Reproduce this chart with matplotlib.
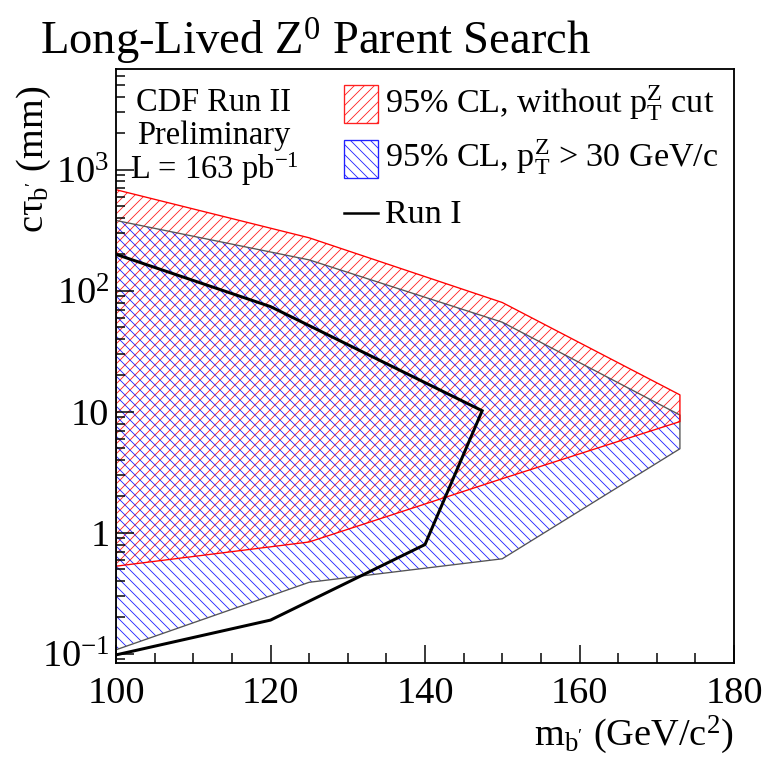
import matplotlib
matplotlib.use("Agg")
import matplotlib.pyplot as plt
from matplotlib.patches import Rectangle
from matplotlib.lines import Line2D
from matplotlib.ticker import FixedLocator, NullFormatter

# b' mass points of the exclusion contours (GeV/c^2)
mass_nocut = [100, 125, 150, 173]
ctau_upper_nocut = [684, 274, 80, 13.8]     # 95% CL, without pT(Z) cut
ctau_lower_nocut = [0.53, 0.84, 2.8, 8.3]

mass_cut = [100, 125, 150, 173]
ctau_upper_cut = [381, 180, 55, 9.4]        # 95% CL, pT(Z) > 30 GeV/c
ctau_lower_cut = [0.108, 0.39, 0.61, 4.95]

# Run I excluded contour
mass_run1 = [100, 120, 147.4, 140, 120, 100]
ctau_run1 = [200, 74, 10.2, 0.8, 0.19, 0.098]

x_ticks = [100, 120, 140, 160, 180]
x_tick_labels = ["100", "120", "140", "160", "180"]
y_ticks = [0.1, 1, 10, 100, 1000]
y_tick_labels = [r"$10^{-1}$", "1", "10", r"$10^{2}$", r"$10^{3}$"]

plt.rcParams["font.family"] = ["Liberation Serif", "DejaVu Serif"]
plt.rcParams["mathtext.fontset"] = "custom"
plt.rcParams["mathtext.rm"] = "Liberation Serif"
plt.rcParams["mathtext.it"] = "Liberation Serif"
plt.rcParams["mathtext.bf"] = "Liberation Serif"
plt.rcParams["mathtext.default"] = "rm"
plt.rcParams["hatch.linewidth"] = 0.5

DPI = 120
fig = plt.figure(figsize=(765 / DPI, 759 / DPI), dpi=DPI)
ax = fig.add_axes([116 / 765, 1 - 663 / 759, 618 / 765, 594 / 759])

ax.set_yscale("log")
ax.set_xlim(100, 180)
ax.set_ylim(0.084, 6800)

RED = "#ff2020"
BLUE = "#2020ff"

# bands: hatched fills, then outlines
ax.fill_between(mass_nocut, ctau_lower_nocut, ctau_upper_nocut,
                facecolor="none", edgecolor=RED, hatch="////", linewidth=0)
ax.fill_between(mass_cut, ctau_lower_cut, ctau_upper_cut,
                facecolor="none", edgecolor=BLUE, hatch="\\\\\\\\", linewidth=0)

cut_x = mass_cut + mass_cut[::-1] + [mass_cut[0]]
cut_y = ctau_upper_cut + ctau_lower_cut[::-1] + [ctau_upper_cut[0]]
ax.plot(cut_x, cut_y, color="#555555", lw=0.8)
nocut_x = mass_nocut + mass_nocut[::-1] + [mass_nocut[0]]
nocut_y = ctau_upper_nocut + ctau_lower_nocut[::-1] + [ctau_upper_nocut[0]]
ax.plot(nocut_x, nocut_y, color="#ff0000", lw=0.8)

ax.plot(mass_run1, ctau_run1, color="black", lw=1.8, solid_joinstyle="miter")

# axes styling
for side in ("left", "bottom", "top", "right"):
    ax.spines[side].set_linewidth(1.1)
ax.xaxis.set_major_locator(FixedLocator(x_ticks))
ax.xaxis.set_minor_locator(FixedLocator([v for v in range(100, 181, 5) if v % 20]))
ax.set_xticklabels(x_tick_labels)
ax.yaxis.set_major_locator(FixedLocator(y_ticks))
minor_y = [m * 10.0 ** e for e in range(-2, 4) for m in range(2, 10)]
ax.yaxis.set_minor_locator(FixedLocator(minor_y))
ax.yaxis.set_minor_formatter(NullFormatter())
ax.set_yticklabels(y_tick_labels)
ax.tick_params(axis="both", which="both", direction="in", top=False, right=False,
               labelsize=23, width=0.9)
ax.tick_params(axis="x", which="major", length=11, pad=8)
ax.tick_params(axis="x", which="minor", length=6)
ax.tick_params(axis="y", which="major", length=11, pad=4)
ax.tick_params(axis="y", which="minor", length=5.5)

fig.text(734 / 765, 1 - 745 / 759, r"m$_{\mathrm{b'}}$ (GeV/c$^{2}$)",
         ha="right", va="baseline", fontsize=23)
fig.text(34 / 765, 1 - 86 / 759, r"c$\tau_{\mathrm{b'}}$ (mm)",
         ha="center", va="top", rotation=90, fontsize=23)

fig.text(40 / 765, 1 - 55 / 759, r"Long-Lived Z$^{0}$ Parent Search",
         ha="left", va="baseline", fontsize=28)

# experiment label
for text, ypx in [("CDF Run II", 111), ("Preliminary", 144), (r"L = 163 pb$^{-1}$", 179)]:
    fig.text(214 / 765, 1 - ypx / 759, text, ha="center", va="baseline", fontsize=19.5)

# legend
def px(x, y):
    return x / 765, 1 - y / 759

fig.patches.append(Rectangle(px(344, 123), 34 / 765, 38 / 759, transform=fig.transFigure,
                             facecolor="none", edgecolor=RED, hatch="////", lw=0.8))
fig.patches.append(Rectangle(px(344, 178), 34 / 765, 38 / 759, transform=fig.transFigure,
                             facecolor="none", edgecolor=BLUE, hatch="\\\\\\\\", lw=0.8))
fig.lines.append(Line2D([344 / 765, 378 / 765], [1 - 213 / 759, 1 - 213 / 759],
                        transform=fig.transFigure, color="black", lw=1.5))
fig.text(*px(385, 113), r"95% CL, without p$_{\mathrm{T}}^{\mathrm{Z}}$ cut",
         ha="left", va="baseline", fontsize=20.5)
fig.text(*px(385, 167), r"95% CL, p$_{\mathrm{T}}^{\mathrm{Z}}$ > 30 GeV/c",
         ha="left", va="baseline", fontsize=20.5)
fig.text(*px(385, 223), "Run I", ha="left", va="baseline", fontsize=20.5)

fig.savefig("out.png", dpi=DPI)
